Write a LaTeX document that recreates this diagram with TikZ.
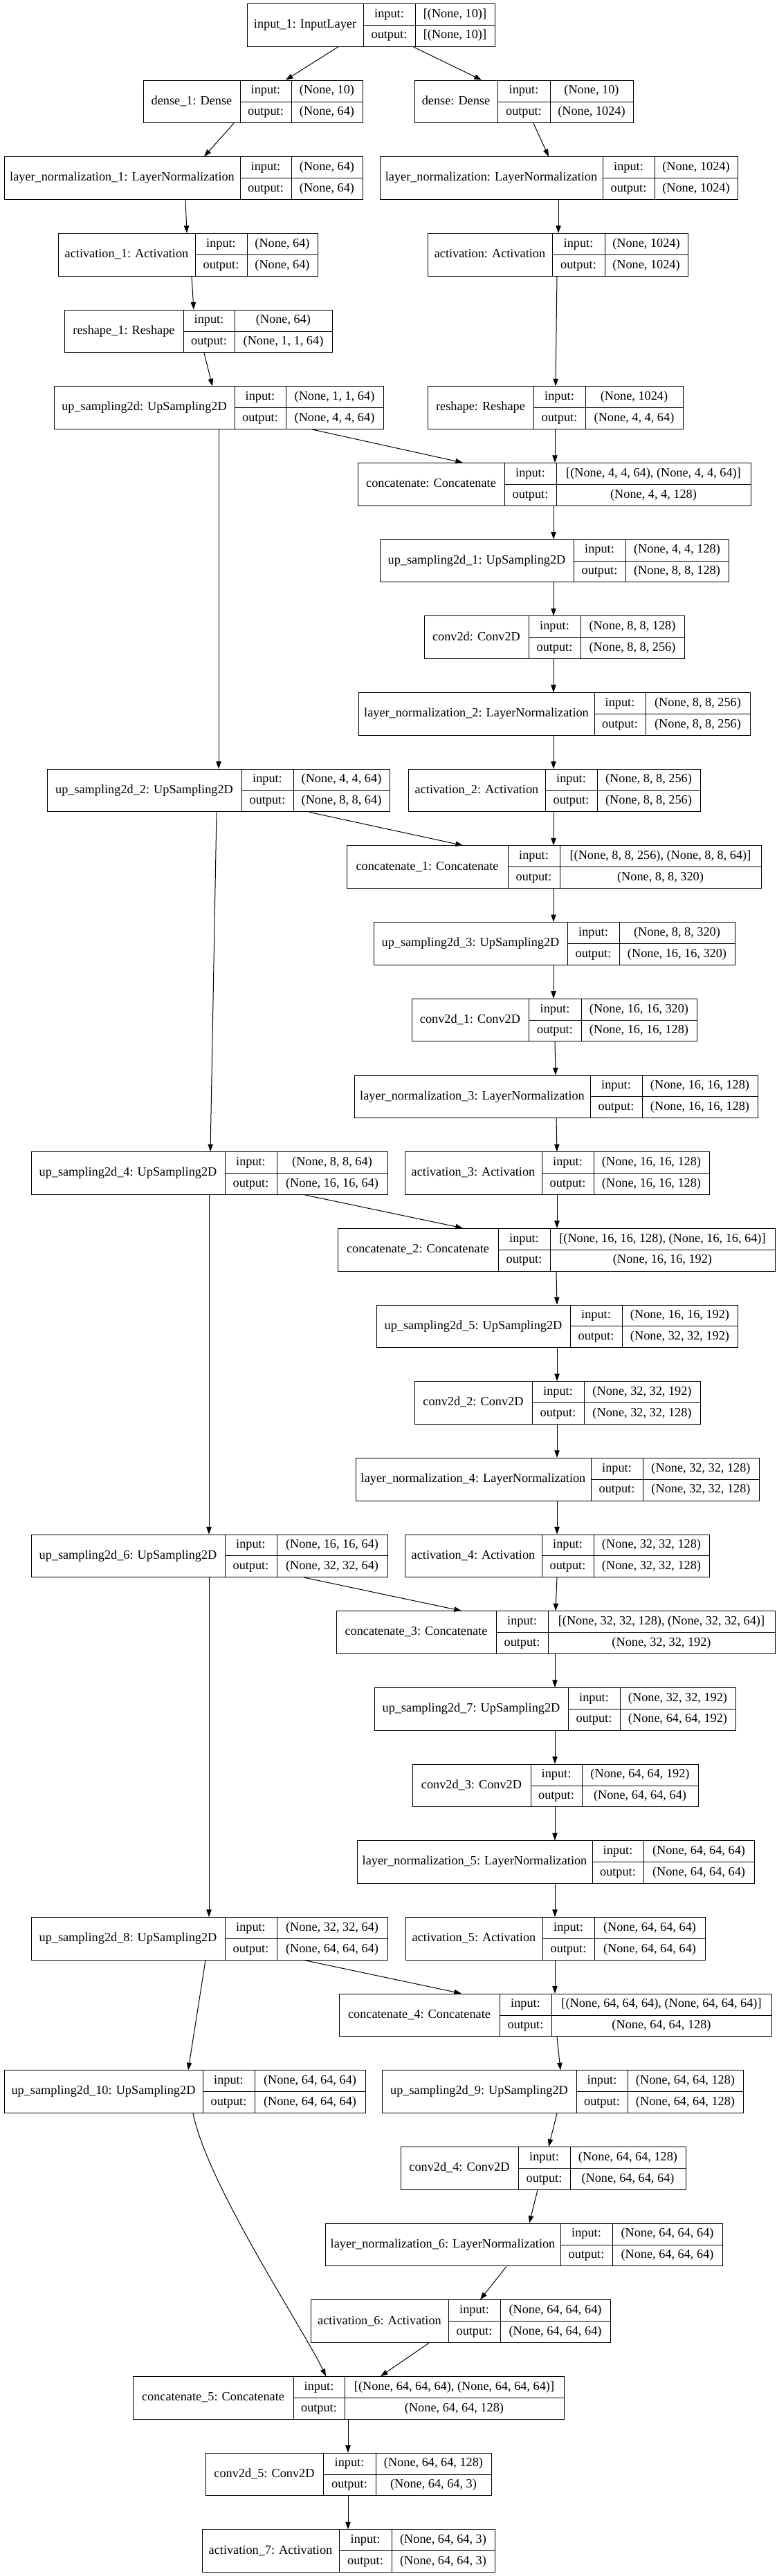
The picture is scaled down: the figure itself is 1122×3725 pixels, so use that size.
\documentclass[tikz,border=0pt]{standalone}
\usepackage{fontspec}
\setmainfont{Liberation Serif}
\usetikzlibrary{arrows.meta,fit}
\tikzset{
  lbox/.style={draw=black, line width=0.75pt, inner sep=0pt},
  ldiv/.style={draw=black, line width=0.7pt},
  ltxt/.style={inner sep=0pt, font=\fontsize{13.7pt}{16pt}\selectfont, text height=9.4pt, text depth=3pt},
  edge/.style={draw=black, line width=0.75pt, -{Triangle[length=8pt,width=5.5pt]}}
}
\newcommand{\Lyr}[9]{%
  \pgfmathsetmacro\LTop{5.5+110.68*#2}%
  \pgfmathsetmacro\LBot{\LTop+61.6}%
  \pgfmathsetmacro\LMid{\LTop+30.8}%
  \pgfmathsetmacro\LUp{\LTop+15.4}%
  \pgfmathsetmacro\LDn{\LTop+46.2}%
  \pgfmathsetmacro\LCa{(#3+#5)/2}%
  \pgfmathsetmacro\LCb{(#5+#6)/2}%
  \pgfmathsetmacro\LCc{(#6+#4)/2}%
  \node[lbox, fit={(#3,\LTop) (#4,\LBot)}] (#1) {};
  \draw[ldiv] (#5,\LTop) -- (#5,\LBot);
  \draw[ldiv] (#6,\LTop) -- (#6,\LBot);
  \draw[ldiv] (#5,\LMid) -- (#4,\LMid);
  \node[ltxt] (#1-name) at (\LCa,\LMid) {#7};
  \node[ltxt] (#1-inl) at (\LCb,\LUp) {input:};
  \node[ltxt] (#1-outl) at (\LCb,\LDn) {output:};
  \node[ltxt] (#1-in) at (\LCc,\LUp) {#8};
  \node[ltxt] (#1-out) at (\LCc,\LDn) {#9};
}
\newcommand{\Edge}[4]{\draw[edge] (#1.south -| #2,0) -- (#3.north -| #4,0);}
\begin{document}
\begin{tikzpicture}[x=0.75pt, y=-0.75pt]
\fill[white] (0,0) rectangle (1122,3725);
\useasboundingbox (0,0) rectangle (1122,3725);

\Lyr{in1}{0}{357}{715}{525}{600}{input\_1: InputLayer}{[(None, 10)]}{[(None, 10)]}
\Lyr{d1}{1}{207}{524}{347}{421}{dense\_1: Dense}{(None, 10)}{(None, 64)}
\Lyr{d0}{1}{599}{915}{719}{795}{dense: Dense}{(None, 10)}{(None, 1024)}
\Lyr{ln1}{2}{6}{524}{347}{421}{layer\_normalization\_1: LayerNormalization}{(None, 64)}{(None, 64)}
\Lyr{ln0}{2}{549}{1066}{871}{946}{layer\_normalization: LayerNormalization}{(None, 1024)}{(None, 1024)}
\Lyr{a1}{3}{84}{459}{282}{357}{activation\_1: Activation}{(None, 64)}{(None, 64)}
\Lyr{a0}{3}{618}{994}{798}{874}{activation: Activation}{(None, 1024)}{(None, 1024)}
\Lyr{r1}{4}{93}{480}{265}{339}{reshape\_1: Reshape}{(None, 64)}{(None, 1, 1, 64)}
\Lyr{us0}{5}{78}{554}{339}{413}{up\_sampling2d: UpSampling2D}{(None, 1, 1, 64)}{(None, 4, 4, 64)}
\Lyr{r0}{5}{618}{987}{771}{846}{reshape: Reshape}{(None, 1024)}{(None, 4, 4, 64)}
\Lyr{c0}{6}{517}{1085}{729}{804}{concatenate: Concatenate}{[(None, 4, 4, 64), (None, 4, 4, 64)]}{(None, 4, 4, 128)}
\Lyr{us1}{7}{549}{1053}{829}{904}{up\_sampling2d\_1: UpSampling2D}{(None, 4, 4, 128)}{(None, 8, 8, 128)}
\Lyr{cv0}{8}{613}{989}{764}{839}{conv2d: Conv2D}{(None, 8, 8, 128)}{(None, 8, 8, 256)}
\Lyr{ln2}{9}{518}{1084}{859}{933}{layer\_normalization\_2: LayerNormalization}{(None, 8, 8, 256)}{(None, 8, 8, 256)}
\Lyr{us2}{10}{68}{563}{349}{424}{up\_sampling2d\_2: UpSampling2D}{(None, 4, 4, 64)}{(None, 8, 8, 64)}
\Lyr{a2}{10}{590}{1012}{788}{863}{activation\_2: Activation}{(None, 8, 8, 256)}{(None, 8, 8, 256)}
\Lyr{c1}{11}{501}{1100}{734}{809}{concatenate\_1: Concatenate}{[(None, 8, 8, 256), (None, 8, 8, 64)]}{(None, 8, 8, 320)}
\Lyr{us3}{12}{540}{1062}{820}{895}{up\_sampling2d\_3: UpSampling2D}{(None, 8, 8, 320)}{(None, 16, 16, 320)}
\Lyr{cv1}{13}{595}{1007}{764}{840}{conv2d\_1: Conv2D}{(None, 16, 16, 320)}{(None, 16, 16, 128)}
\Lyr{ln3}{14}{512}{1095}{853}{928}{layer\_normalization\_3: LayerNormalization}{(None, 16, 16, 128)}{(None, 16, 16, 128)}
\Lyr{us4}{15}{45}{560}{325}{400}{up\_sampling2d\_4: UpSampling2D}{(None, 8, 8, 64)}{(None, 16, 16, 64)}
\Lyr{a3}{15}{585}{1025}{783}{858}{activation\_3: Activation}{(None, 16, 16, 128)}{(None, 16, 16, 128)}
\Lyr{c2}{16}{488}{1120}{720}{795}{concatenate\_2: Concatenate}{[(None, 16, 16, 128), (None, 16, 16, 64)]}{(None, 16, 16, 192)}
\Lyr{us5}{17}{544}{1066}{824}{899}{up\_sampling2d\_5: UpSampling2D}{(None, 16, 16, 192)}{(None, 32, 32, 192)}
\Lyr{cv2}{18}{599}{1012}{769}{844}{conv2d\_2: Conv2D}{(None, 32, 32, 192)}{(None, 32, 32, 128)}
\Lyr{ln4}{19}{514}{1097}{854}{929}{layer\_normalization\_4: LayerNormalization}{(None, 32, 32, 128)}{(None, 32, 32, 128)}
\Lyr{us6}{20}{45}{560}{325}{400}{up\_sampling2d\_6: UpSampling2D}{(None, 16, 16, 64)}{(None, 32, 32, 64)}
\Lyr{a4}{20}{585}{1025}{783}{858}{activation\_4: Activation}{(None, 32, 32, 128)}{(None, 32, 32, 128)}
\Lyr{c3}{21}{486}{1120}{717}{792}{concatenate\_3: Concatenate}{[(None, 32, 32, 128), (None, 32, 32, 64)]}{(None, 32, 32, 192)}
\Lyr{us7}{22}{541}{1063}{821}{896}{up\_sampling2d\_7: UpSampling2D}{(None, 32, 32, 192)}{(None, 64, 64, 192)}
\Lyr{cv3}{23}{596}{1009}{767}{841}{conv2d\_3: Conv2D}{(None, 64, 64, 192)}{(None, 64, 64, 64)}
\Lyr{ln5}{24}{516}{1090}{856}{930}{layer\_normalization\_5: LayerNormalization}{(None, 64, 64, 64)}{(None, 64, 64, 64)}
\Lyr{us8}{25}{45}{560}{325}{400}{up\_sampling2d\_8: UpSampling2D}{(None, 32, 32, 64)}{(None, 64, 64, 64)}
\Lyr{a5}{25}{586}{1019}{784}{859}{activation\_5: Activation}{(None, 64, 64, 64)}{(None, 64, 64, 64)}
\Lyr{c4}{26}{490}{1115}{722}{797}{concatenate\_4: Concatenate}{[(None, 64, 64, 64), (None, 64, 64, 64)]}{(None, 64, 64, 128)}
\Lyr{us10}{27}{6}{528}{293}{368}{up\_sampling2d\_10: UpSampling2D}{(None, 64, 64, 64)}{(None, 64, 64, 64)}
\Lyr{us9}{27}{552}{1074}{833}{907}{up\_sampling2d\_9: UpSampling2D}{(None, 64, 64, 128)}{(None, 64, 64, 128)}
\Lyr{cv4}{28}{579}{991}{749}{824}{conv2d\_4: Conv2D}{(None, 64, 64, 128)}{(None, 64, 64, 64)}
\Lyr{ln6}{29}{470}{1044}{810}{885}{layer\_normalization\_6: LayerNormalization}{(None, 64, 64, 64)}{(None, 64, 64, 64)}
\Lyr{a6}{30}{449}{882}{648}{723}{activation\_6: Activation}{(None, 64, 64, 64)}{(None, 64, 64, 64)}
\Lyr{c5}{31}{192}{815}{424}{498}{concatenate\_5: Concatenate}{[(None, 64, 64, 64), (None, 64, 64, 64)]}{(None, 64, 64, 128)}
\Lyr{cv5}{32}{297}{710}{467}{543}{conv2d\_5: Conv2D}{(None, 64, 64, 128)}{(None, 64, 64, 3)}
\Lyr{a7}{33}{292}{715}{490}{566}{activation\_7: Activation}{(None, 64, 64, 3)}{(None, 64, 64, 3)}

\Edge{in1}{489}{d1}{413}
\Edge{in1}{597}{d0}{696}
\Edge{d1}{338}{ln1}{295}
\Edge{d0}{771}{ln0}{793}
\Edge{ln1}{268}{a1}{270}
\Edge{ln0}{807}{a0}{807}
\Edge{a1}{277}{r1}{280}
\Edge{a0}{805}{r0}{803}
\Edge{r1}{295}{us0}{307}
\Edge{us0}{451}{c0}{669}
\Edge{r0}{802}{c0}{802}
\Edge{us0}{316}{us2}{316}
\Edge{c0}{800}{us1}{800}
\Edge{us1}{800}{cv0}{800}
\Edge{cv0}{800}{ln2}{800}
\Edge{ln2}{800}{a2}{800}
\Edge{us2}{447}{c1}{669}
\Edge{a2}{800}{c1}{800}
\Edge{us2}{313}{us4}{304}
\Edge{c1}{800}{us3}{800}
\Edge{us3}{800}{cv1}{800}
\Edge{cv1}{802}{ln3}{803}
\Edge{ln3}{804}{a3}{805}
\Edge{us4}{440}{c2}{669}
\Edge{a3}{805}{c2}{805}
\Edge{us4}{302}{us6}{302}
\Edge{c2}{804}{us5}{805}
\Edge{us5}{805}{cv2}{805}
\Edge{cv2}{805}{ln4}{805}
\Edge{ln4}{805}{a4}{805}
\Edge{us6}{440}{c3}{667}
\Edge{a4}{805}{c3}{803}
\Edge{us6}{302}{us8}{302}
\Edge{c3}{802}{us7}{802}
\Edge{us7}{802}{cv3}{802}
\Edge{cv3}{802}{ln5}{802}
\Edge{ln5}{802}{a5}{802}
\Edge{us8}{440}{c4}{667}
\Edge{a5}{802}{c4}{802}
\Edge{us8}{297}{us10}{272}
\Edge{c4}{805}{us9}{810}
\Edge{us9}{805}{cv4}{793}
\Edge{cv4}{777}{ln6}{765}
\Edge{ln6}{732}{a6}{694}
\Edge{a6}{620}{c5}{550}
\draw[edge] (us10.south -| 279,0) .. controls (300,3160) and (440,3370) .. (c5.north -| 471,0);
\Edge{c5}{503}{cv5}{503}
\Edge{cv5}{503}{a7}{503}
\end{tikzpicture}
\end{document}
